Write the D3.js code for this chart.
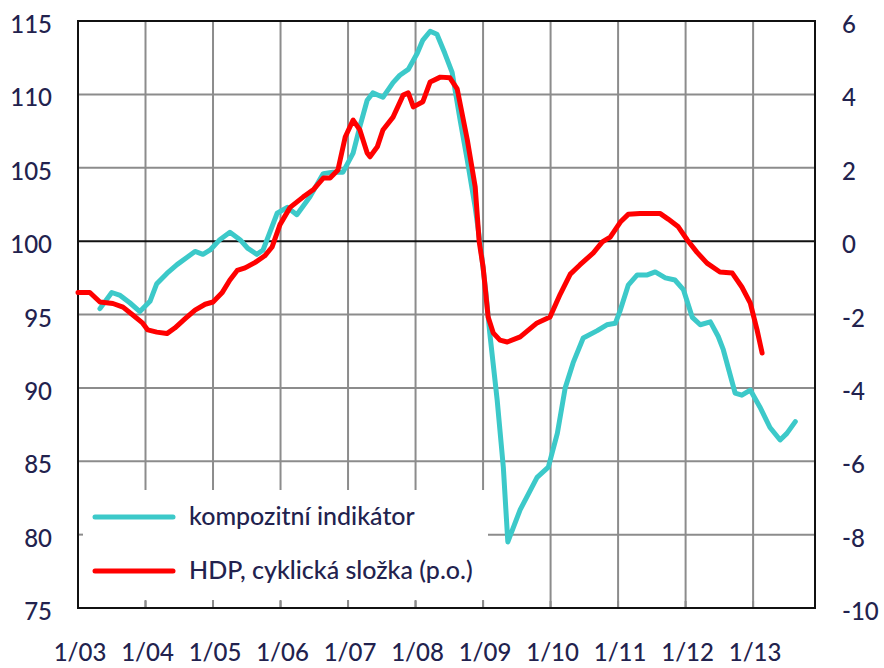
<!DOCTYPE html>
<html>
<head>
<meta charset="utf-8">
<script src="https://cdn.jsdelivr.net/npm/d3@7"></script>
<style>
    html, body { margin: 0; padding: 0; background: #fff; }
    svg { display: block; }
</style>
</head>
<body>
<svg id="chart"></svg>
<script>
// Kompozitní indikátor vs. cyklická složka HDP

const yearLabels = ['1/03', '1/04', '1/05', '1/06', '1/07', '1/08', '1/09', '1/10', '1/11', '1/12', '1/13'];
const leftTicks = [75, 80, 85, 90, 95, 100, 105, 110, 115];
const rightTicks = [-10, -8, -6, -4, -2, 0, 2, 4, 6];
const seriesNames = ['kompozitní indikátor', 'HDP, cyklická složka (p.o.)'];

// months since 1/03
const indicatorMonths = [3.9, 6.0, 7.5, 9.2, 11.0, 12.8, 14.0, 15.8, 17.6, 19.4, 20.8, 22.2, 23.5, 25.2, 27.0,
    28.8, 30.2, 31.8, 32.9, 34.1, 35.4, 37.2, 38.9, 41.2, 43.6, 45.3, 47.1, 48.9, 50.1, 51.4, 52.4, 54.2,
    56.0, 57.2, 58.7, 60.3, 61.3, 62.6, 63.8, 65.2, 66.5, 67.9, 69.2, 70.6, 71.6, 72.5, 73.2, 74.5, 75.6,
    76.4, 78.6, 81.6, 83.6, 85.2, 86.6, 88.0, 89.8, 92.3, 94.0, 95.5, 96.4, 97.8, 99.4, 101.2, 102.6,
    104.4, 106.1, 107.6, 109.2, 110.6, 112.4, 113.8, 114.7, 116.8, 118.0, 119.5, 121.2, 123.0, 124.8,
    126.0, 127.5];
const indicatorValues = [95.4, 96.5, 96.3, 95.8, 95.2, 95.9, 97.1, 97.8, 98.4, 98.9, 99.3, 99.1, 99.4, 100.1, 100.6,
    100.1, 99.5, 99.1, 99.4, 100.6, 101.9, 102.3, 101.8, 103.0, 104.6, 104.7, 104.7, 106.0, 107.8, 109.6, 110.1, 109.8,
    110.8, 111.3, 111.7, 112.8, 113.7, 114.3, 114.1, 112.8, 111.5, 108.3, 105.5, 102.3, 99.5, 96.5, 93.7, 89.2, 84.6,
    79.5, 81.7, 83.9, 84.6, 86.9, 90.0, 91.7, 93.4, 93.9, 94.3, 94.4, 95.3, 97.0, 97.7, 97.7, 97.9,
    97.5, 97.35, 96.7, 94.8, 94.3, 94.5, 93.5, 92.6, 89.65, 89.5, 89.85, 88.7, 87.3, 86.45,
    86.9, 87.7];

const gdpMonths = [0, 2.1, 3.9, 6.2, 8.0, 9.8, 11.4, 12.4, 14.0, 15.8, 17.2, 19.0, 20.8, 22.6, 24.0, 25.6, 27.0,
    28.3, 29.7, 31.5, 33.2, 34.5, 35.9, 37.7, 40.0, 41.8, 43.6, 44.8, 46.2, 47.5, 48.9, 50.1, 51.4, 51.9,
    53.2, 54.2, 56.0, 57.8, 58.7, 59.6, 61.3, 62.6, 64.4, 66.1, 67.4, 69.2, 70.6, 71.3, 72.0, 72.9, 73.8,
    75.0, 76.3, 78.6, 81.6, 83.9, 85.7, 87.5, 89.2, 91.6, 93.2, 94.6, 96.4, 97.8, 99.9, 103.5, 104.9,
    106.7, 108.3, 110.0, 111.8, 114.1, 116.3, 118.0, 119.5, 120.7, 121.6];
const gdpValues = [-1.4, -1.4, -1.66, -1.7, -1.8, -2.02, -2.22, -2.42, -2.48, -2.52, -2.37, -2.12, -1.88, -1.72, -1.66, -1.41, -1.06,
    -0.8, -0.73, -0.58, -0.4, -0.16, 0.45, 0.92, 1.2, 1.4, 1.72, 1.72, 1.94, 2.84, 3.3, 3.03, 2.4, 2.3,
    2.57, 3.03, 3.38, 3.98, 4.04, 3.66, 3.8, 4.34, 4.47, 4.45, 4.15, 2.76, 1.48, 0.0, -0.7, -2.07, -2.5,
    -2.7, -2.75, -2.61, -2.23, -2.07, -1.45, -0.9, -0.65, -0.32, -0.02, 0.11, 0.52, 0.73, 0.75, 0.75, 0.6,
    0.39, 0.03, -0.3, -0.6, -0.84, -0.87, -1.25, -1.69, -2.42, -3.05];

const WIDTH = 884;
const HEIGHT = 668;
const PLOT = { left: 78, right: 815, top: 21, bottom: 608 };
const TEXT_COLOR = '#22224e';
const FONT = 'Lato, "Liberation Sans", sans-serif';

const svg = d3.select('#chart')
    .attr('width', WIDTH)
    .attr('height', HEIGHT)
    .attr('viewBox', `0 0 ${WIDTH} ${HEIGHT}`);

const x = d3.scaleLinear().domain([0, 131]).range([PLOT.left, PLOT.right]);
const yLeft = d3.scaleLinear().domain([75, 115]).range([PLOT.bottom, PLOT.top]);
const yRight = d3.scaleLinear().domain([-10, 6]).range([PLOT.bottom, PLOT.top]);

const yearMonths = yearLabels.map((d, i) => i * 12);

// Gridlines
const grid = svg.append('g');
grid.selectAll('line.h')
    .data(leftTicks.filter(d => d !== 100 && d !== 75 && d !== 115))
    .join('line')
    .attr('x1', PLOT.left).attr('x2', PLOT.right)
    .attr('y1', d => yLeft(d)).attr('y2', d => yLeft(d))
    .attr('stroke', '#8c8c8c')
    .attr('stroke-width', 2);

grid.selectAll('line.v')
    .data(yearMonths.slice(1))
    .join('line')
    .attr('x1', d => x(d)).attr('x2', d => x(d))
    .attr('y1', PLOT.top).attr('y2', PLOT.bottom)
    .attr('stroke', '#8c8c8c')
    .attr('stroke-width', 2);

// Legend box hides the grid behind it
const legendBox = { x: PLOT.left + 1, y: 490, w: 409, h: 110 };
svg.append('rect')
    .attr('x', legendBox.x)
    .attr('y', legendBox.y)
    .attr('width', legendBox.w)
    .attr('height', legendBox.h)
    .attr('fill', '#fff');

// Tick marks on bottom axis (visible under the legend)
svg.append('g')
    .selectAll('line')
    .data(yearMonths.slice(1))
    .join('line')
    .attr('x1', d => x(d)).attr('x2', d => x(d))
    .attr('y1', PLOT.bottom - 7).attr('y2', PLOT.bottom)
    .attr('stroke', '#8c8c8c')
    .attr('stroke-width', 2);

svg.append('line')
    .attr('x1', PLOT.left).attr('x2', PLOT.left + 5)
    .attr('y1', yLeft(80)).attr('y2', yLeft(80))
    .attr('stroke', '#8c8c8c')
    .attr('stroke-width', 2);

// Zero line
svg.append('line')
    .attr('x1', PLOT.left).attr('x2', PLOT.right)
    .attr('y1', yLeft(100)).attr('y2', yLeft(100))
    .attr('stroke', '#111')
    .attr('stroke-width', 2);

// Frame
svg.append('rect')
    .attr('x', PLOT.left)
    .attr('y', PLOT.top)
    .attr('width', PLOT.right - PLOT.left)
    .attr('height', PLOT.bottom - PLOT.top)
    .attr('fill', 'none')
    .attr('stroke', '#111')
    .attr('stroke-width', 2);

// Series
const indicatorLine = d3.line()
    .x((d, i) => x(indicatorMonths[i]))
    .y(d => yLeft(d));

const gdpLine = d3.line()
    .x((d, i) => x(gdpMonths[i]))
    .y(d => yRight(d));

svg.append('path')
    .datum(indicatorValues)
    .attr('d', indicatorLine)
    .attr('fill', 'none')
    .attr('stroke', '#3cc9c9')
    .attr('stroke-width', 5)
    .attr('stroke-linejoin', 'round')
    .attr('stroke-linecap', 'round');

svg.append('path')
    .datum(gdpValues)
    .attr('d', gdpLine)
    .attr('fill', 'none')
    .attr('stroke', '#ff0000')
    .attr('stroke-width', 5)
    .attr('stroke-linejoin', 'round')
    .attr('stroke-linecap', 'round');

// Axis labels
const labels = svg.append('g')
    .attr('font-family', FONT)
    .attr('font-size', '24px')
    .attr('font-weight', 500)
    .attr('fill', TEXT_COLOR);

labels.selectAll('text.left')
    .data(leftTicks)
    .join('text')
    .attr('x', 52)
    .attr('y', d => yLeft(d) + 12)
    .attr('text-anchor', 'end')
    .text(d => d);

labels.selectAll('text.right')
    .data(rightTicks)
    .join('text')
    .attr('x', 842)
    .attr('y', d => yRight(d) + 12)
    .attr('text-anchor', 'start')
    .text(d => d);

labels.selectAll('text.bottom')
    .data(yearLabels)
    .join('text')
    .attr('x', (d, i) => x(yearMonths[i]) + 2)
    .attr('y', 661)
    .attr('text-anchor', 'middle')
    .text(d => d);

// Legend
const legend = svg.append('g')
    .attr('font-family', FONT)
    .attr('font-size', '25px')
    .attr('font-weight', 500)
    .attr('fill', TEXT_COLOR);

const legendColors = ['#3cc9c9', '#ff0000'];
const legendRows = legend.selectAll('g')
    .data(seriesNames)
    .join('g')
    .attr('transform', (d, i) => `translate(95, ${517 + i * 54})`);

legendRows.append('line')
    .attr('x1', 0).attr('x2', 78)
    .attr('stroke', (d, i) => legendColors[i])
    .attr('stroke-width', 5)
    .attr('stroke-linecap', 'round');

legendRows.append('text')
    .attr('x', 94)
    .attr('y', 8)
    .text(d => d);
</script>
</body>
</html>
